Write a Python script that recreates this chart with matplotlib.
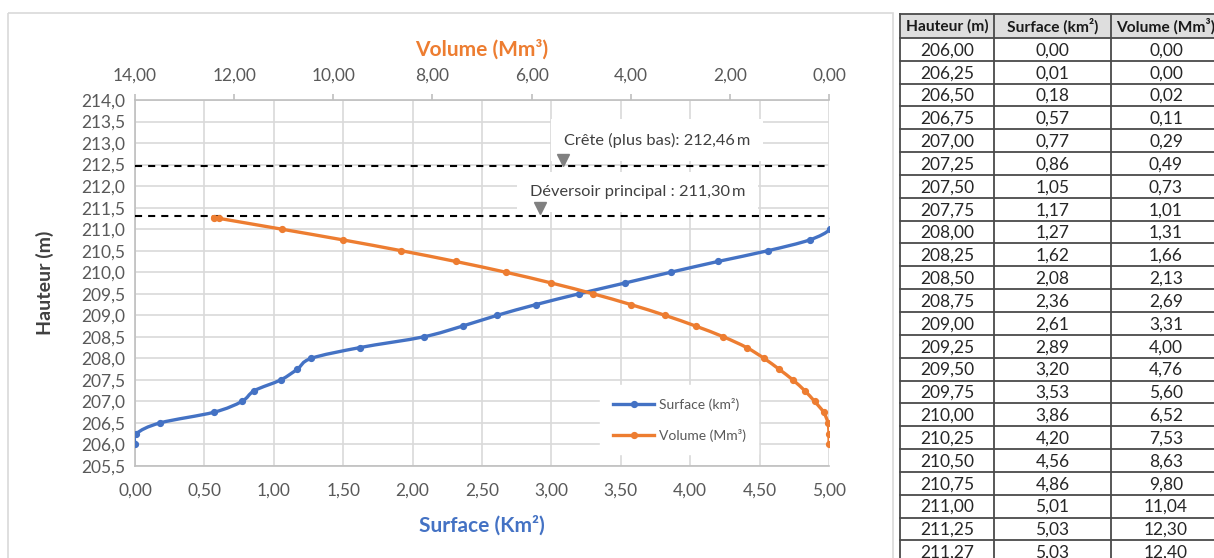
import matplotlib.pyplot as plt
import numpy as np
from matplotlib.lines import Line2D
from matplotlib.patches import PathPatch, Rectangle
from matplotlib.path import Path

plt.rcParams['font.family'] = ['Lato', 'DejaVu Sans']

# courbe hauteur / surface / volume de la retenue
hauteur = [206.00, 206.25, 206.50, 206.75, 207.00, 207.25, 207.50, 207.75,
           208.00, 208.25, 208.50, 208.75, 209.00, 209.25, 209.50, 209.75,
           210.00, 210.25, 210.50, 210.75, 211.00, 211.25, 211.27]
surface = [0.00, 0.01, 0.18, 0.57, 0.77, 0.86, 1.05, 1.17,
           1.27, 1.62, 2.08, 2.36, 2.61, 2.89, 3.20, 3.53,
           3.86, 4.20, 4.56, 4.86, 5.01, 5.03, 5.03]
volume = [0.00, 0.00, 0.02, 0.11, 0.29, 0.49, 0.73, 1.01,
          1.31, 1.66, 2.13, 2.69, 3.31, 4.00, 4.76, 5.60,
          6.52, 7.53, 8.63, 9.80, 11.04, 12.30, 12.40]

cote_crete = 212.46
cote_deversoir = 211.30

BLUE = '#4472C4'
ORANGE = '#ED7D31'
GRID = '#D9D9D9'
TICK = '#595959'


def fr(v, nd):
    return f'{v:.{nd}f}'.replace('.', ',')


def smooth_path(x, y):
    # courbe lissée (Catmull-Rom -> Bézier) passant par les points
    x = np.asarray(x, float)
    y = np.asarray(y, float)
    n = len(x)
    verts = [(x[0], y[0])]
    codes = [Path.MOVETO]
    for i in range(n - 1):
        a = max(i - 1, 0)
        d = min(i + 2, n - 1)
        c1 = (x[i] + (x[i + 1] - x[a]) / 6, y[i] + (y[i + 1] - y[a]) / 6)
        c2 = (x[i + 1] - (x[d] - x[i]) / 6, y[i + 1] - (y[d] - y[i]) / 6)
        verts += [c1, c2, (x[i + 1], y[i + 1])]
        codes += [Path.CURVE4] * 3
    return Path(verts, codes)


fig = plt.figure(figsize=(12.14, 5.58), dpi=100)

# calque de fond : cadre du graphique + tableau
bg = fig.add_axes([0, 0, 1, 1], zorder=0)
bg.set_xlim(0, 1214)
bg.set_ylim(558, 0)
bg.axis('off')
bg.add_patch(Rectangle((8, 13), 885, 560, fill=False, ec=GRID, lw=1.2))

col_x = [900, 994, 1111, 1221]
head_top, head_h, row_h = 13.5, 24.4, 22.84
headers = ['Hauteur (m)', 'Surface (km²)', 'Volume (Mm³)']
bg.add_patch(Rectangle((col_x[0], head_top), col_x[-1] - col_x[0], head_h,
                       fc='#DEDEDE', ec='none'))
rows = [(fr(h, 2), fr(s, 2), fr(v, 2)) for h, s, v in zip(hauteur, surface, volume)]
y_lines = [head_top, head_top + head_h] + [head_top + head_h + row_h * (k + 1)
                                           for k in range(len(rows))]
for yl in y_lines:
    bg.plot([col_x[0], col_x[-1]], [yl, yl], color='#4a4a4a', lw=1.3)
for xc in col_x:
    bg.plot([xc, xc], [head_top, 560], color='#4a4a4a', lw=1.3)
for j, txt in enumerate(headers):
    bg.text((col_x[j] + col_x[j + 1]) / 2, head_top + head_h / 2 + 1, txt,
            ha='center', va='center', fontsize=11.2, fontweight='bold', color='#1a1a1a')
for k, row in enumerate(rows):
    yc = head_top + head_h + row_h * (k + 0.5) + 1
    for j, txt in enumerate(row):
        bg.text((col_x[j] + col_x[j + 1]) / 2, yc, txt, ha='center', va='center',
                fontsize=12.5, color='#262626')

# graphique principal
ax = fig.add_axes([135 / 1214, 92 / 558, 694 / 1214, 366 / 558], zorder=1)
ax.set_facecolor('none')
ax.set_xlim(0, 5)
ax.set_ylim(205.5, 214)
xt = np.arange(0, 5.01, 0.5)
yt = np.arange(205.5, 214.01, 0.5)
ax.set_xticks(xt, [fr(v, 2) for v in xt])
ax.set_yticks(yt, [fr(v, 1) for v in yt])
ax.grid(True, color=GRID, lw=1.2)
ax.set_axisbelow(True)
ax.tick_params(axis='both', length=0, colors=TICK, labelsize=12.5)
ax.tick_params(axis='x', pad=12)
ax.tick_params(axis='y', pad=7)
for s in ['top', 'right']:
    ax.spines[s].set_visible(False)
for s in ['left', 'bottom']:
    ax.spines[s].set_color('#BFBFBF')
    ax.spines[s].set_linewidth(1.2)

ax2 = ax.twiny()
ax2.set_xlim(14, 0)
vt = np.arange(14, -0.01, -2)
ax2.set_xticks(vt, [fr(v, 2) for v in vt])
ax2.tick_params(axis='x', length=4, width=1.2, color='#BFBFBF', colors=TICK,
                labelsize=12.5, pad=8)
ax2.tick_params(axis='x', color='#BFBFBF')
for s in ['left', 'right', 'bottom']:
    ax2.spines[s].set_visible(False)
ax2.spines['top'].set_color('#BFBFBF')
ax2.spines['top'].set_linewidth(1.2)

# niveaux caractéristiques
for lvl in (cote_crete, cote_deversoir):
    ax.axhline(lvl, color='black', lw=1.5, dashes=(3.4, 2.9), zorder=3)

ax.text(3.76, cote_crete + 0.61, 'Crête (plus bas): ' + fr(cote_crete, 2) + '\u2009m',
        ha='center', va='center', fontsize=11.8, color='#404040', zorder=4,
        bbox=dict(fc='white', ec='none', boxstyle='square,pad=0.8'))
ax.text(3.62, cote_deversoir + 0.56, 'Déversoir principal : ' + fr(cote_deversoir, 2) + '\u2009m',
        ha='center', va='center', fontsize=11.8, color='#404040', zorder=4,
        bbox=dict(fc='white', ec='none', boxstyle='square,pad=0.8'))
ax.plot([3.08], [cote_crete + 0.15], marker='v', ms=8, color='#808080', zorder=5)
ax.plot([2.92], [cote_deversoir + 0.19], marker='v', ms=8, color='#808080', zorder=5)

# séries
ax.add_patch(PathPatch(smooth_path(surface, hauteur), fill=False, ec=BLUE, lw=2.4,
                       zorder=6, capstyle='round'))
ax.plot(surface, hauteur, ls='none', marker='o', ms=4.2, color=BLUE, zorder=7)
ax2.add_patch(PathPatch(smooth_path(volume, hauteur), fill=False, ec=ORANGE, lw=2.4,
                        zorder=6, capstyle='round'))
ax2.plot(volume, hauteur, ls='none', marker='o', ms=4.2, color=ORANGE, zorder=7)
ax2.set_ylim(205.5, 214)

handles = [Line2D([], [], color=BLUE, lw=2.4, marker='o', ms=4.2),
           Line2D([], [], color=ORANGE, lw=2.4, marker='o', ms=4.2)]
leg = ax2.legend(handles, ['Surface (km²)', 'Volume (Mm³)'], loc='center',
                 bbox_to_anchor=(0.784, 0.126), frameon=True, fancybox=False,
                 facecolor='white', edgecolor='white', framealpha=1,
                 fontsize=10, labelspacing=1.3, handlelength=3.0, handletextpad=0.3,
                 borderpad=0.9, borderaxespad=0)
for t in leg.get_texts():
    t.set_color(TICK)
leg.set_zorder(8)

ax.set_xlabel('Surface (Km²)', fontsize=15, fontweight='bold', color=BLUE)
ax.xaxis.set_label_coords(0.5, -0.135)
ax2.set_xlabel('Volume (Mm³)', fontsize=15, fontweight='bold', color=ORANGE)
ax2.xaxis.set_label_coords(0.5, 1.12)
ax.set_ylabel('Hauteur (m)', fontsize=14, fontweight='bold', color='#404040')
ax.yaxis.set_label_coords(-0.116, 0.5)

fig.savefig('out.png', dpi=100)
